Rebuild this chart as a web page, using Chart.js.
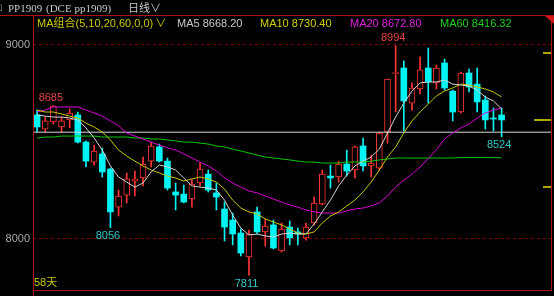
<!DOCTYPE html>
<html>
<head>
<meta charset="utf-8">
<script src="https://cdn.jsdelivr.net/npm/chart.js@4.4.1/dist/chart.umd.min.js"></script>
<style>
body{margin:0;background:#000;}
#wrap{position:relative;width:554px;height:296px;overflow:hidden;background:#000;}
.t{position:absolute;white-space:nowrap;font-size:11px;line-height:13px;font-family:"Liberation Sans","Noto Sans CJK SC",sans-serif;}
.hd{color:#c8c8c8;font-family:"Liberation Serif","Noto Sans CJK SC",serif;}
</style>
</head>
<body>
<div id="wrap">
<canvas id="kline" width="554" height="296"></canvas>
<div class="t hd" style="left:-5px;top:1px">□</div>
<div class="t hd" style="left:8px;top:2px">PP1909</div>
<div class="t hd" style="left:46px;top:2px">(DCE pp1909)</div>
<div class="t hd" style="left:128px;top:1px;font-family:'Noto Sans CJK SC'">日线∨</div>
<div class="t" style="left:37px;top:17px;color:#c8c800">MA组合(5,10,20,60,0,0)<span style="margin-left:2px">∨</span></div>
<div class="t" style="left:177px;top:17px;color:#c8c8c8">MA5 8668.20</div>
<div class="t" style="left:260px;top:17px;color:#d0d000">MA10 8730.40</div>
<div class="t" style="left:350px;top:17px;color:#e020e0">MA20 8672.80</div>
<div class="t" style="left:440px;top:17px;color:#20d020">MA60 8416.32</div>
<div class="t" style="left:34px;top:276px;color:#c8c800">58天</div>
</div>
<script>
// daily candles, PP1909
var opens  = [8637,8564,8601,8575,8611,8637,8497,8394,8436,8358, 8162,8224,8296,8312,8399,8472,8399,8240,8229,8204,
              8286,8332,8235,8152,8095,8028,7905,8137,8034,8070, 7936,8059,8034,8003,8080,8178,8322,8317,8384,8353,
              8477,8374,8363,8549,8850,8879,8698,8771,8879,8802, 8905,8760,8652,8853,8796,8714,8621,8637];
var highs  = [8662,8626,8685,8626,8668,8652,8503,8482,8466,8363, 8250,8338,8348,8420,8497,8487,8415,8286,8276,8302,
              8389,8353,8286,8188,8131,8049,8044,8162,8100,8095, 8080,8090,8054,8080,8214,8353,8379,8399,8456,8477,
              8518,8430,8549,8822,8994,8915,8802,8936,8982,8894, 8925,8765,8858,8874,8879,8735,8673,8673];
var lows   = [8549,8549,8590,8549,8570,8492,8369,8379,8317,8056, 8116,8183,8219,8271,8369,8394,8250,8147,8183,8162,
              8271,8240,8147,7987,7967,7910,7811,8023,7961,7946, 7930,7967,7967,7992,8070,8173,8260,8291,8322,8312,
              8348,8317,8353,8492,8652,8554,8662,8745,8698,8771, 8765,8606,8647,8755,8652,8564,8554,8524];
var closes = [8575,8606,8683,8606,8647,8497,8399,8451,8343,8137, 8219,8307,8307,8384,8477,8399,8260,8224,8188,8281,
              8358,8250,8214,8059,8023,7925,8023,8034,8064,7951, 8049,8003,8023,8059,8183,8332,8312,8384,8348,8472,
              8374,8389,8544,8822,8855,8709,8776,8869,8807,8879, 8776,8652,8853,8781,8704,8611,8616,8611];

// moving averages as drawn
var ma5  = [8637,8631,8626,8626,8621,8611,8570,8518,8456,8374, 8317,8291,8265,8286,8343,8379,8369,8353,8312,8271,
            8265,8260,8250,8198,8121,8054,8018,8023,8013,8008, 8023,8028,8023,8023,8075,8137,8198,8271,8327,8374,
            8399,8420,8461,8544,8626,8698,8760,8802,8807,8807, 8817,8796,8791,8786,8765,8729,8709,8668];
var ma10 = [8662,8652,8652,8642,8631,8621,8595,8575,8549,8508, 8456,8425,8399,8374,8353,8338,8322,8312,8296,8307,
            8317,8307,8291,8255,8198,8157,8137,8126,8101,8085, 8070,8049,8028,8023,8034,8080,8116,8137,8168,8198,
            8240,8291,8353,8420,8472,8544,8606,8652,8693,8735, 8760,8776,8796,8791,8781,8771,8755,8730];
var ma20 = [8652,8662,8678,8678,8678,8678,8662,8647,8631,8606, 8580,8544,8528,8513,8497,8482,8467,8456,8436,8415,
            8394,8374,8348,8312,8286,8265,8245,8235,8219,8204, 8188,8173,8162,8147,8137,8131,8131,8131,8142,8152,
            8157,8168,8183,8219,8266,8300,8332,8369,8412,8458, 8513,8544,8570,8590,8621,8647,8662,8673];
var ma60 = [8518,8523,8523,8528,8528,8528,8528,8528,8523,8523, 8523,8523,8518,8518,8513,8513,8508,8503,8497,8497,
            8492,8487,8477,8472,8461,8451,8441,8430,8420,8415, 8410,8405,8399,8394,8394,8389,8389,8389,8394,8394,
            8394,8399,8405,8410,8415,8415,8415,8415,8415,8415, 8415,8415,8417,8417,8417,8417,8417,8416];

var yTicks = [8000, 9000];
var refPrice = 8548;                 // white horizontal line
var sideMarks = [8956, 8611, 8265];  // olive marks on the right edge
var peakLabels = [[3,'high'],[45,'high'],[10,'low'],[27,'low'],[58,'low']];

var RED = '#ff3434', CYAN = '#00f4f4';
var xMin = 0.5, xMax = 64.06;
var days = opens.map(function (v, i) { return i + 1; });
var isUp = days.map(function (d, i) { return closes[i] >= opens[i]; });

function pts(arr) {
  return arr.map(function (v, i) { return {x: days[i], y: v}; });
}

var frame = {
  id: 'frame',
  afterDraw: function (chart) {
    var c = chart.ctx, xs = chart.scales.x, ys = chart.scales.y;
    c.save();
    // extreme price labels
    c.font = '11px "Liberation Sans", sans-serif';
    c.textAlign = 'center';
    c.textBaseline = 'middle';
    peakLabels.forEach(function (p) {
      var i = p[0] - 1;
      var x = xs.getPixelForValue(days[i]) - 2.5;
      if (p[1] == 'high') {
        c.fillStyle = '#e84444';
        c.fillText(String(highs[i]), x, ys.getPixelForValue(highs[i]) - 7.5);
      } else {
        c.fillStyle = '#30c8c8';
        c.fillText(String(lows[i]), x, ys.getPixelForValue(lows[i]) + 8.5);
      }
    });
    // olive marks
    c.strokeStyle = '#a8a800';
    c.lineWidth = 2;
    sideMarks.forEach(function (v, k) {
      var y = Math.round(ys.getPixelForValue(v));
      c.beginPath();
      c.moveTo(k == 1 ? 534 : 543, y);
      c.lineTo(551, y);
      c.stroke();
    });
    // border
    c.strokeStyle = '#a81414';
    c.lineWidth = 1;
    c.beginPath();
    c.moveTo(0, 15.5); c.lineTo(554, 15.5);
    c.moveTo(33.5, 15); c.lineTo(33.5, 296);
    c.moveTo(33, 290.5); c.lineTo(552, 290.5);
    c.moveTo(551.5, 15); c.lineTo(551.5, 291);
    c.stroke();
    c.fillStyle = '#d01818';
    c.beginPath();
    c.moveTo(545, 16); c.lineTo(554, 16); c.lineTo(554, 24);
    c.closePath();
    c.fill();
    c.restore();
  }
};

new Chart(document.getElementById('kline'), {
  type: 'bar',
  data: {
    datasets: [
      {type: 'line', data: pts(ma5), borderColor: '#d4d4d4', borderWidth: 1, pointRadius: 0, order: 0},
      {type: 'line', data: pts(ma10), borderColor: '#c8c800', borderWidth: 1, pointRadius: 0, order: 0},
      {type: 'line', data: pts(ma20), borderColor: '#d800d8', borderWidth: 1, pointRadius: 0, order: 0},
      {type: 'line', data: pts(ma60), borderColor: '#00c800', borderWidth: 1, pointRadius: 0, order: 0},
      {type: 'line', data: [{x: xMin, y: refPrice}, {x: xMax, y: refPrice}],
       borderColor: '#d8d8d8', borderWidth: 1, pointRadius: 0, order: 1},
      {
        data: days.map(function (d, i) { return {x: d, y: [opens[i], closes[i]]}; }),
        backgroundColor: isUp.map(function (u) { return u ? '#000' : CYAN; }),
        borderColor: isUp.map(function (u) { return u ? RED : CYAN; }),
        borderWidth: isUp.map(function (u) { return u ? 1 : 0; }),
        borderSkipped: false,
        barThickness: 6,
        minBarLength: 1,
        grouped: false,
        order: 2
      },
      {
        data: days.map(function (d, i) { return {x: d, y: [lows[i], highs[i]]}; }),
        backgroundColor: isUp.map(function (u) { return u ? RED : CYAN; }),
        barThickness: 1,
        grouped: false,
        order: 3
      }
    ]
  },
  options: {
    responsive: false,
    animation: false,
    devicePixelRatio: 1,
    layout: {padding: {left: 0, right: 3, top: 16, bottom: 6}},
    plugins: {legend: {display: false}, tooltip: {enabled: false}},
    scales: {
      x: {type: 'linear', min: xMin, max: xMax, offset: false, display: false},
      y: {
        min: 7734.5, max: 9147,
        afterBuildTicks: function (s) { s.ticks = yTicks.map(function (v) { return {value: v}; }); },
        afterFit: function (s) { s.width = 33; s.paddingTop = 0; s.paddingBottom = 0; },
        grid: {color: '#800000', drawTicks: false},
        border: {display: false, dash: [3, 3]},
        ticks: {
          color: '#a8a8a8', padding: 3, font: {family: 'Liberation Sans', size: 11},
          callback: function (v) { return String(v); }
        }
      }
    }
  },
  plugins: [frame]
});
</script>
</body>
</html>
